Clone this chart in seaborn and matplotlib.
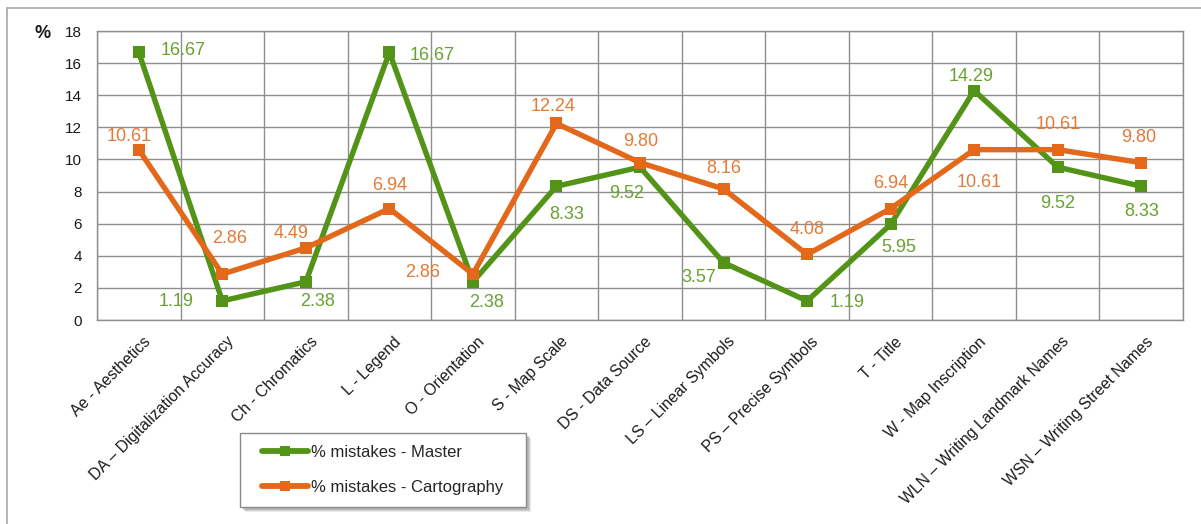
import numpy as np
import pandas as pd
import matplotlib
matplotlib.use("Agg")
import matplotlib.pyplot as plt
from matplotlib.lines import Line2D
from matplotlib.patches import Rectangle
import seaborn as sns

# Error categories and the share of mistakes (%) for each group
categories = [
    "Ae - Aesthetics",
    "DA \u2013 Digitalization Accuracy",
    "Ch - Chromatics",
    "L - Legend",
    "O - Orientation",
    "S - Map Scale",
    "DS - Data Source",
    "LS \u2013 Linear Symbols",
    "PS \u2013 Precise Symbols",
    "T - Title",
    "W - Map Inscription",
    "WLN \u2013 Writing Landmark Names",
    "WSN \u2013 Writing Street Names",
]
master = [16.67, 1.19, 2.38, 16.67, 2.38, 8.33, 9.52, 3.57, 1.19, 5.95, 14.29, 9.52, 8.33]
cartography = [10.61, 2.86, 4.49, 6.94, 2.86, 12.24, 9.80, 8.16, 4.08, 6.94, 10.61, 10.61, 9.80]
series_names = ["% mistakes - Master", "% mistakes - Cartography"]
y_ticks = [0, 2, 4, 6, 8, 10, 12, 14, 16, 18]

# Value-label offsets in pixels (dx, dy) relative to each marker
master_label_offsets = [(44, 2), (-46, -1), (12, -20), (43, -3), (14, -21), (10, -28),
                        (-13, -26), (-25, -15), (40, -2), (8, -23), (-3, 14), (0, -36), (0, -25)]
carto_label_offsets = [(-10, 13), (7, 36), (-15, 14), (0, 23), (-50, 2), (-3, 17),
                       (1, 21), (0, 20), (0, 25), (0, 25), (5, -33), (0, 25), (-3, 25)]

line_colors = ["#529318", "#E3681A"]
label_colors = ["#67A232", "#E27A38"]
grid_color = "#8E8E8E"

sns.set_theme(style="white")
plt.rcParams["font.family"] = ["Liberation Sans", "DejaVu Sans"]

pos = np.arange(len(categories))
df = pd.DataFrame({
    "pos": np.concatenate([pos, pos]),
    "value": master + cartography,
    "series": [series_names[0]] * len(pos) + [series_names[1]] * len(pos),
})

W, H = 1201, 524
fig = plt.figure(figsize=(W / 100, H / 100), dpi=100)
ax = fig.add_axes([97 / W, 1 - 320 / H, (1183 - 97) / W, (320 - 31) / H])

sns.lineplot(data=df, x="pos", y="value", hue="series", hue_order=series_names,
             palette=line_colors, marker="s", markersize=8.5, markeredgewidth=0,
             linewidth=3.9, ax=ax, legend=False, zorder=3)

ax.set_xlim(-0.5, len(categories) - 0.5)
ax.set_ylim(0, 18)
ax.set_xlabel("")
ax.set_ylabel("")

# cell borders as minor ticks; category names set below each point
ax.set_xticks(pos)
ax.set_xticklabels([])
ax.set_xticks(np.arange(-0.5, len(categories), 1.0), minor=True)
ax.tick_params(axis="x", which="major", length=0)
ax.tick_params(axis="x", which="minor", length=5, width=1, color=grid_color, direction="out")
for x, name in zip(pos, categories):
    ax.annotate(name, xy=(x, 0), xycoords=("data", "axes fraction"),
                xytext=(4, -14), textcoords="offset pixels", rotation=45,
                rotation_mode="anchor", ha="right", va="top", fontsize=11.3,
                color="#1a1a1a", annotation_clip=False)

ax.set_yticks(y_ticks)
ax.tick_params(axis="y", which="major", length=4, width=1, color=grid_color,
               direction="out", labelsize=11, pad=7, labelcolor="#1a1a1a")

ax.grid(False)
ax.grid(True, axis="x", which="minor", color=grid_color, linewidth=1)
ax.grid(True, axis="y", which="major", color=grid_color, linewidth=1)
ax.set_axisbelow(True)
for side in ["left", "right", "top", "bottom"]:
    ax.spines[side].set_visible(True)
    ax.spines[side].set_color(grid_color)
    ax.spines[side].set_linewidth(1)

# value labels
for values, offsets, color in [(master, master_label_offsets, label_colors[0]),
                               (cartography, carto_label_offsets, label_colors[1])]:
    for x, v, (dx, dy) in zip(pos, values, offsets):
        ax.annotate(f"{v:.2f}", xy=(x, v), xytext=(dx, dy), textcoords="offset pixels",
                    ha="center", va="center", fontsize=13, color=color, zorder=4)

fig.text(43 / W, 1 - 33 / H, "%", ha="center", va="center",
         fontsize=13, fontweight="bold", color="#1a1a1a")

# legend box with drop shadow, entries drawn by the legend itself
bx0, by0, bx1, by1 = 240, 433, 526, 507
for k, a in [(5, 0.18), (4, 0.25), (3, 0.35)]:
    fig.add_artist(Rectangle(((bx0 + k) / W, 1 - (by1 + k) / H), (bx1 - bx0) / W,
                             (by1 - by0) / H, transform=fig.transFigure,
                             facecolor="#8a8a8a", edgecolor="none", alpha=a, zorder=5))
fig.add_artist(Rectangle((bx0 / W, 1 - by1 / H), (bx1 - bx0) / W, (by1 - by0) / H,
                         transform=fig.transFigure, facecolor="white", edgecolor="#8a8a8a",
                         linewidth=1, zorder=6))
handles = [Line2D([], [], color=c, linewidth=4.2, marker="s", markersize=7.5,
                  markeredgewidth=0) for c in line_colors]
leg = fig.legend(handles, series_names, loc="upper left",
                 bbox_to_anchor=(262 / W, 1 - 445 / H), bbox_transform=fig.transFigure,
                 fontsize=12, frameon=False, borderpad=0, labelspacing=1.18,
                 handlelength=2.76, handletextpad=0.18, borderaxespad=0)
leg.set_zorder(7)

# outer chart frame
fig.add_artist(Line2D([7 / W, 7 / W], [0, 1 - 8 / H], transform=fig.transFigure,
                      color="#a8a8a8", linewidth=1.2))
fig.add_artist(Line2D([7 / W, 1], [1 - 8 / H, 1 - 8 / H], transform=fig.transFigure,
                      color="#a8a8a8", linewidth=1.2))

fig.savefig("out.png", dpi=100, facecolor="white")
